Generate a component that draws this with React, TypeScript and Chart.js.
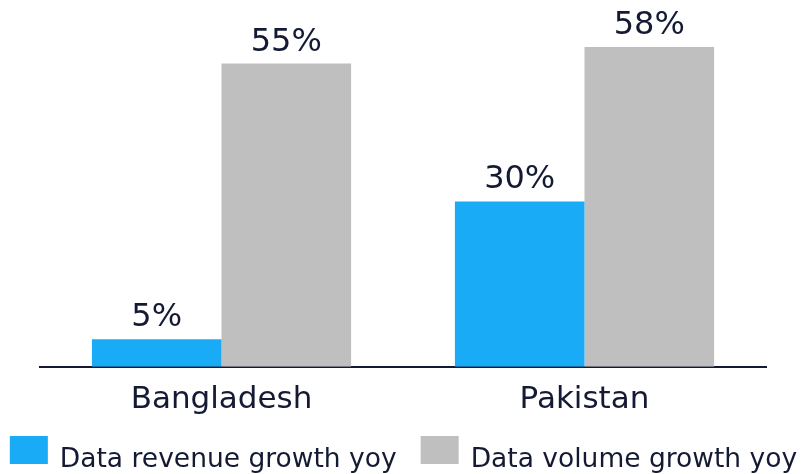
import React, { useEffect, useRef } from "react";
import { Chart, registerables } from "chart.js";

Chart.register(...registerables);

const categories = ["Bangladesh", "Pakistan"];
const revenueGrowth = [5, 30];
const volumeGrowth = [55, 58];
const seriesNames = ["Data revenue growth yoy", "Data volume growth yoy"];
const seriesColors = ["#1aabf6", "#bfbfbf"];

const TEXT = "#141a33";
const FONT = "'DejaVu Sans', Verdana, sans-serif";

const labelPlugin = {
  id: "barLabels",
  afterDatasetsDraw(chart: any) {
    const ctx = chart.ctx;
    ctx.save();
    ctx.font = `32px ${FONT}`;
    ctx.fillStyle = TEXT;
    ctx.textAlign = "center";
    ctx.textBaseline = "alphabetic";
    chart.data.datasets.forEach((ds: any, i: number) => {
      const meta = chart.getDatasetMeta(i);
      meta.data.forEach((el: any, j: number) => {
        ctx.fillText(`${ds.data[j]}%`, el.x, el.y - 13);
      });
    });
    ctx.restore();
  },
};

const legendPlugin = {
  id: "customLegend",
  afterDraw(chart: any) {
    const ctx = chart.ctx;
    ctx.save();
    ctx.font = `26.5px ${FONT}`;
    const boxW = 38;
    const boxH = 28;
    const gapText = 12;
    const gapItem = 24;
    const items = chart.data.datasets.map((ds: any) => ({
      text: ds.label,
      color: ds.backgroundColor,
      w: ctx.measureText(ds.label).width,
    }));
    const total =
      items.reduce((s: number, it: any) => s + boxW + gapText + it.w, 0) +
      gapItem * (items.length - 1);
    let x = (chart.width - total) / 2 + 1;
    const boxTop = chart.height - 38;
    const baseline = chart.height - 7;
    items.forEach((it: any) => {
      ctx.fillStyle = it.color;
      ctx.fillRect(x, boxTop, boxW, boxH);
      x += boxW + gapText;
      ctx.fillStyle = TEXT;
      ctx.textAlign = "left";
      ctx.textBaseline = "alphabetic";
      ctx.fillText(it.text, x, baseline);
      x += it.w + gapItem;
    });
    ctx.restore();
  },
};

export default function App() {
  const ref = useRef<HTMLCanvasElement>(null);
  useEffect(() => {
    if (!ref.current) return;
    const chart = new Chart(ref.current, {
      type: "bar",
      data: {
        labels: categories,
        datasets: [
          {
            label: seriesNames[0],
            data: revenueGrowth,
            backgroundColor: seriesColors[0],
            barPercentage: 1,
            categoryPercentage: 0.714,
          },
          {
            label: seriesNames[1],
            data: volumeGrowth,
            backgroundColor: seriesColors[1],
            barPercentage: 1,
            categoryPercentage: 0.714,
          },
        ],
      },
      options: {
        animation: false,
        responsive: false,
        maintainAspectRatio: false,
        layout: { padding: { left: 0, right: 0, top: 36, bottom: 40 } },
        scales: {
          x: {
            grid: { display: false, drawTicks: false },
            border: { display: true, color: TEXT, width: 2 },
            ticks: { color: TEXT, font: { family: FONT, size: 31 }, padding: 15 },
          },
          y: {
            display: true,
            position: "left",
            min: 0,
            max: 60,
            grid: { display: false, drawTicks: false },
            border: { display: false },
            ticks: { display: false },
            afterFit(scale: any) {
              scale.width = 40;
            },
          },
          y2: {
            display: true,
            position: "right",
            min: 0,
            max: 60,
            grid: { display: false, drawTicks: false },
            border: { display: false },
            ticks: { display: false },
            afterFit(scale: any) {
              scale.width = 39;
            },
          },
        },
        plugins: {
          legend: { display: false },
          tooltip: { enabled: false },
        },
      },
      plugins: [labelPlugin, legendPlugin],
    });
    return () => chart.destroy();
  }, []);
  return (
    <div style={{ position: "absolute", left: 0, top: 0, width: 805, height: 474, background: "#fff" }}>
      <canvas ref={ref} width={805} height={474} />
    </div>
  );
}
